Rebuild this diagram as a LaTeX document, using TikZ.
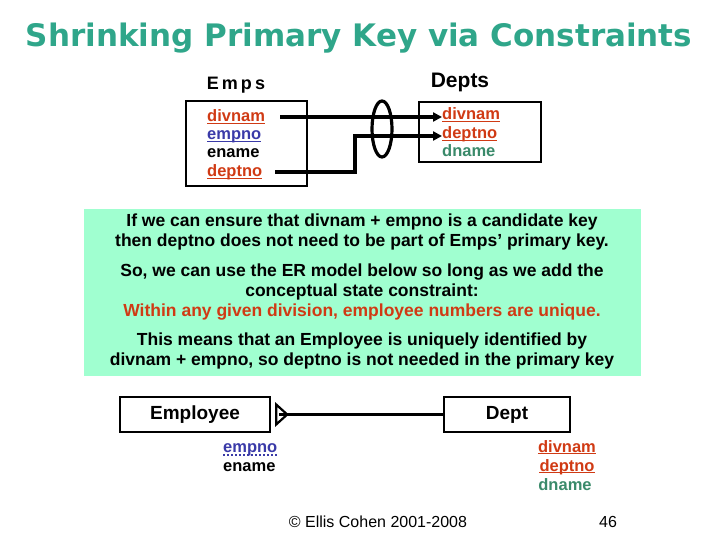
\documentclass[tikz,border=0pt]{standalone}
\usepackage{fontspec}
\setmainfont{Liberation Sans}
\newfontfamily\titlefont{DejaVu Sans}
\usetikzlibrary{arrows.meta}
\definecolor{ttl}{HTML}{2FA68A}
\definecolor{rd}{HTML}{D03A14}
\definecolor{bl}{HTML}{3A3AA8}
\definecolor{gn}{HTML}{3A8A6A}
\definecolor{mint}{HTML}{A0FFD0}
\newcommand{\ulin}[2]{\draw[#2,line width=1.2pt] ([yshift=-1.8pt]#1.base west) -- ([yshift=-1.8pt]#1.base east);}
\begin{document}
\begin{tikzpicture}[x=1pt,y=-1pt,
  box/.style={draw,line width=2.4pt},
  attr/.style={font=\fontsize{16.5}{16}\selectfont\bfseries,inner sep=0pt,anchor=base west},
  uattr/.style={attr,text=rd},
  cattr/.style={font=\fontsize{16.5}{16}\selectfont\bfseries,inner sep=0pt,anchor=base},
  ln/.style={line width=3.2pt},
  body/.style={font=\fontsize{17.5}{20}\selectfont\bfseries,align=center,inner sep=0pt}]
\useasboundingbox (0,0) rectangle (720,540);
\node[font=\titlefont\bfseries\fontsize{31}{31}\selectfont,text=ttl] (title) at (359,38) {Shrinking Primary Key via Constraints};
\node[font=\fontsize{18}{18}\selectfont\bfseries] (empsl) at (236,85) {E\,m\,p\,s};
\node[font=\fontsize{21}{21}\selectfont\bfseries] (deptsl) at (460,82) {Depts};
\node[box,minimum width=121pt,minimum height=85pt] (emps) at (246.5,143.5) {};
\node[box,minimum width=122pt,minimum height=60pt] (depts) at (480,132) {};
\node[uattr] (e1) at (207,122) {divnam};
\node[attr,text=bl] (e2) at (207,140) {empno};
\node[attr] (e3) at (207,158) {ename};
\node[uattr] (e4) at (207,177) {deptno};
\node[uattr] (d1) at (442,120) {divnam};
\node[uattr] (d2) at (442,139) {deptno};
\node[attr,text=gn] (d3) at (442,157) {dname};
\ulin{e1}{rd}\ulin{e2}{bl}\ulin{e4}{rd}\ulin{d1}{rd}\ulin{d2}{rd}
\coordinate (a1) at (280,117);
\coordinate (a2) at (275,172);
\coordinate (m) at (355,172);
\coordinate (a3) at (355,136);
\draw[ln,-{Triangle[length=9pt,width=9pt]}] (a1) -- (d1.west|-a1);
\draw[ln,-{Triangle[length=9pt,width=9pt]}] (a2) -- (m) -- (a3) -- (d2.west|-a3);
\draw[ln] (382,129) ellipse [x radius=10,y radius=28];
\node[fill=mint,minimum width=557pt,minimum height=167pt] (green) at (362.5,292.5) {};
\node[body] (t1) at (362,232) {If we can ensure that divnam + empno is a candidate key\\then deptno does not need to be part of Emps' primary key.};
\node[body] (t2) at (362,292) {So, we can use the ER model below so long as we add the\\conceptual state constraint:\\\textcolor{rd}{Within any given division, employee numbers are unique.}};
\node[body] (t3) at (362,351) {This means that an Employee is uniquely identified by\\divnam + empno, so deptno is not needed in the primary key};
\node[box,minimum width=150pt,minimum height=35pt,font=\fontsize{19}{19}\selectfont\bfseries] (emp) at (195,414.5) {Employee};
\node[box,minimum width=126pt,minimum height=35pt,font=\fontsize{19}{19}\selectfont\bfseries] (dept) at (507,414.5) {Dept};
\draw[ln] (emp.east) ++(8,0) -- (dept.west);
\draw[line width=2.2pt] (emp.east) ++(5,-10) -- ++(11,10) -- ++(-11,10) -- cycle;
\node[attr,text=bl] (ee1) at (223,452) {empno};
\draw[bl,line width=2pt,dotted] ([yshift=-3pt]ee1.base west) -- ([yshift=-3pt]ee1.base east);
\node[attr] (ee2) at (223,471) {ename};
\node[cattr,text=rd] (p1) at (567,452) {divnam};
\node[cattr,text=rd] (p2) at (567,471) {deptno};
\node[cattr,text=gn] (p3) at (565,490) {dname};
\ulin{p1}{rd}\ulin{p2}{rd}
\node[font=\fontsize{16}{16}\selectfont] (foot) at (378,522) {\textcopyright\ Ellis Cohen 2001-2008};
\node[font=\fontsize{16}{16}\selectfont] (pg) at (608,522) {46};
\end{tikzpicture}
\end{document}
